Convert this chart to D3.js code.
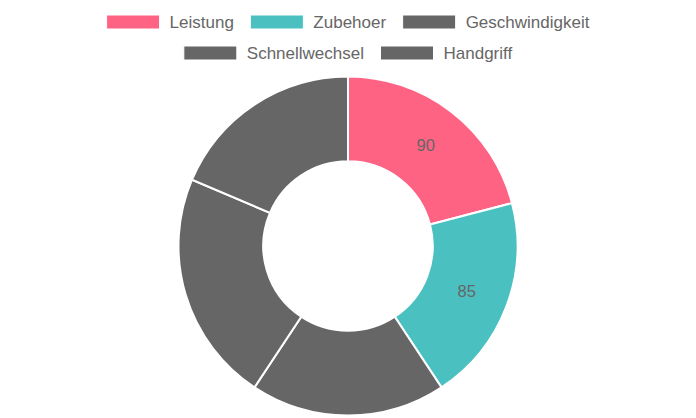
<!DOCTYPE html>
<html>
<head>
<meta charset="utf-8">
<script src="https://cdn.jsdelivr.net/npm/d3@7"></script>
<style>
  body { margin: 0; background: #fff; }
  svg { display: block; font-family: "Liberation Sans", Arial, sans-serif; }
</style>
</head>
<body>
<svg id="chart" width="696" height="418"></svg>
<script>
const labels = ["Leistung", "Zubehoer", "Geschwindigkeit", "Schnellwechsel", "Handgriff"]
const values = [90, 85, 80, 95, 80]
const colors = ["#FF6384", "#4BC0C0", "#666666", "#666666", "#666666"]

const width = 696
const svg = d3.select("#chart")

const cx = 348, cy = 246
const outerR = 169.5
const innerR = outerR * 0.5

const pie = d3.pie().sort(null).value(d => d)
const arc = d3.arc().innerRadius(innerR).outerRadius(outerR)

const arcs = pie(values)

const g = svg.append("g").attr("transform", `translate(${cx},${cy})`)

g.selectAll("path")
    .data(arcs)
    .join("path")
    .attr("d", arc)
    .attr("fill", (d, i) => colors[i])
    .attr("stroke", "#fff")
    .attr("stroke-width", 2)

// value labels (they vanish on the grey slices, same as the original)
g.selectAll("text.val")
    .data(arcs)
    .join("text")
    .attr("class", "val")
    .attr("transform", d => `translate(${arc.centroid(d)})`)
    .attr("text-anchor", "middle")
    .attr("dy", "0.35em")
    .attr("font-size", "16.5px")
    .attr("fill", "#666")
    .text(d => d.data)

// legend, wrapped and centred row by row
const boxW = 53, boxH = 14, boxGap = 10, itemGap = 16.5
const legendFont = 17
const maxRow = 640

const legend = svg.append("g")
const items = labels.map((name, i) => {
    const t = legend.append("text")
        .attr("font-size", legendFont + "px")
        .attr("fill", "#666")
        .text(name)
    return { name, i, t, w: boxW + boxGap + t.node().getComputedTextLength() }
})

const rows = [[]]
let rowW = 0
items.forEach(it => {
    const add = rows[rows.length - 1].length ? itemGap + it.w : it.w
    if (rowW + add > maxRow) {
        rows.push([it])
        rowW = it.w
    } else {
        rows[rows.length - 1].push(it)
        rowW += add
    }
})

rows.forEach((row, r) => {
    const total = d3.sum(row, d => d.w) + itemGap * (row.length - 1)
    let x = width / 2 - total / 2
    const yc = 22 + r * 31
    row.forEach(it => {
        legend.append("rect")
            .attr("x", x)
            .attr("y", yc - boxH / 2)
            .attr("width", boxW)
            .attr("height", boxH)
            .attr("fill", colors[it.i])
            .attr("stroke", "#fff")
            .attr("stroke-width", 1)
        it.t.attr("x", x + boxW + boxGap)
            .attr("y", yc)
            .attr("dy", "0.35em")
        x += it.w + itemGap
    })
})
</script>
</body>
</html>
